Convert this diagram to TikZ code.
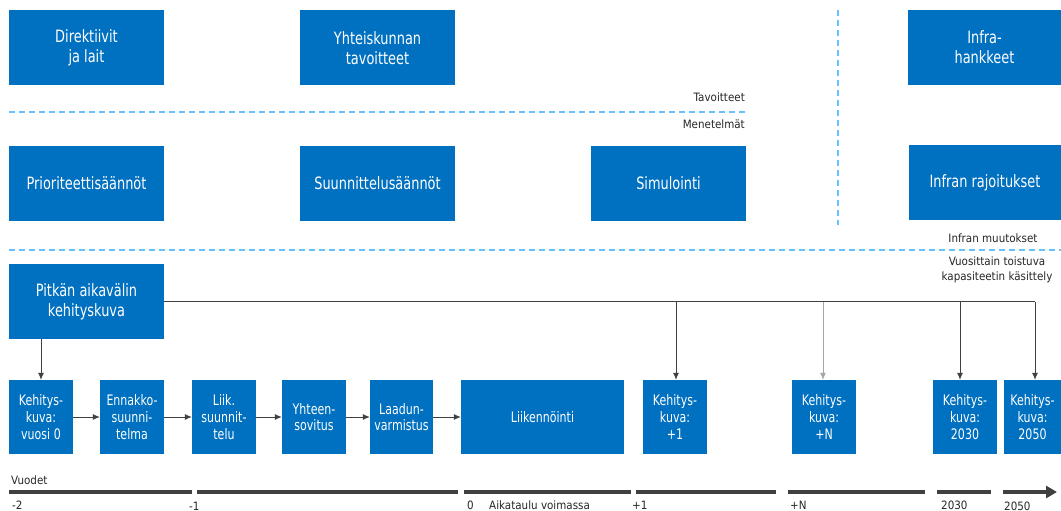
\documentclass[tikz,border=0pt]{standalone}
\usepackage{fontspec}
\setmainfont{DejaVu Sans}[FakeStretch=0.76]
\newfontfamily\notefont{DejaVu Sans}[FakeStretch=0.9]
\usetikzlibrary{arrows,arrows.meta}
\definecolor{boxblue}{RGB}{0,112,192}
\definecolor{dashblue}{RGB}{102,194,255}
\definecolor{linegray}{RGB}{64,64,64}
\definecolor{lightline}{RGB}{166,166,166}
\definecolor{notegray}{RGB}{38,38,38}
\tikzset{
  bigbox/.style   = {fill=boxblue, text=white, align=center, inner sep=0pt,
                     minimum width=155pt, minimum height=75pt,
                     font=\fontsize{17}{20}\selectfont},
  smallbox/.style = {fill=boxblue, text=white, align=center, inner sep=0pt,
                     minimum width=64pt, minimum height=74pt,
                     font=\fontsize{14.5}{16.7}\selectfont},
  note/.style     = {text=notegray, align=center, inner sep=0pt,
                     font=\notefont\fontsize{11.5}{14.5}\selectfont},
  sepline/.style  = {draw=dashblue, line width=1.5pt, dash pattern=on 6pt off 4pt},
  link/.style     = {draw=linegray, line width=0.8pt},
  flow/.style     = {link, -{Latex[length=7pt,width=6pt]}},
  yearbar/.style  = {draw=linegray, line width=4pt}
}

\begin{document}
\begin{tikzpicture}[x=1pt,y=-1pt]
  \useasboundingbox (0,0) rectangle (1061,511);
  % tavoitteet
  \node[bigbox] (direk) at (86.5,47.5) {Direktiivit\\ja lait};
  \node[bigbox] (yhteis) at (377.5,48) {Yhteiskunnan\\tavoitteet};
  \node[bigbox, minimum width=153pt] (infrah) at (984.5,47.5) {Infra-\\hankkeet};
  % menetelmat
  \node[bigbox] (prio) at (86.5,183.5) {Prioriteettisäännöt};
  \node[bigbox] (suunn) at (377.5,183.5) {Suunnittelusäännöt};
  \node[bigbox] (simul) at (668.5,183.5) {Simulointi};
  \node[bigbox, minimum width=152pt] (infrar) at (985,182.5) {Infran rajoitukset};
  % erottimet
  \draw[sepline] (9,112) -- (745,112);
  \draw[sepline] (9,250) -- (1061,250);
  \draw[sepline] (838,10) -- (838,225);
  \node[note, anchor=east] (tavo) at (745,97) {Tavoitteet};
  \node[note, anchor=east] (mene) at (745,124) {Menetelmät};
  \node[note] (muut) at (993,238) {Infran muutokset};
  \node[note] (vuosit) at (997,270) {Vuosittain toistuva\\kapasiteetin käsittely};
  % kehityskuvat
  \node[bigbox] (pitka) at (86.5,301.5) {Pitkän aikavälin\\kehityskuva};
  \node[smallbox] (kk0) at (41,417) {Kehitys-\\kuva:\\vuosi 0};
  \node[smallbox] (ennak) at (132,417) {Ennakko-\\suunni-\\telma};
  \node[smallbox] (liik) at (224,417) {Liik.\\suunnit-\\telu};
  \node[smallbox] (yhteen) at (314,417) {Yhteen-\\sovitus};
  \node[smallbox, minimum width=63pt] (laadun) at (401.5,417) {Laadun-\\varmistus};
  \node[smallbox, minimum width=163pt] (liikenn) at (542.5,417) {Liikennöinti};
  \node[smallbox] (kk1) at (675,417) {Kehitys-\\kuva:\\+1};
  \node[smallbox] (kkn) at (824,417) {Kehitys-\\kuva:\\+N};
  \node[smallbox] (kk30) at (965,417) {Kehitys-\\kuva:\\2030};
  \node[smallbox, minimum width=57pt] (kk50) at (1032.5,417) {Kehitys-\\kuva:\\2050};
  \draw[flow] (kk0) -- (ennak);
  \draw[flow] (ennak) -- (liik);
  \draw[flow] (liik) -- (yhteen);
  \draw[flow] (yhteen) -- (laadun);
  \draw[flow] (laadun) -- (liikenn);
  \draw[flow] (pitka.south -| kk0) -- (kk0);
  \coordinate (d1) at (676,301.5);
  \coordinate (dn) at (823,301.5);
  \coordinate (d30) at (960,301.5);
  \coordinate (d50) at (1035,301.5);
  \draw[link] (pitka.east) -- (d50);
  \draw[flow] (d1) -- (d1 |- kk1.north);
  \draw[flow, draw=lightline] (dn) -- (dn |- kkn.north);
  \draw[flow] (d30) -- (d30 |- kk30.north);
  \draw[flow] (d50) -- (d50 |- kk50.north);
  % aikajana
  \foreach \a/\b in {9/192, 197/458, 464/631, 636/776, 788/925, 937/991}
    \draw[yearbar] (\a,492) -- (\b,492);
  \draw[yearbar, -{Triangle[length=11pt,width=12pt]}] (1003,492) -- (1057,492);
  \node[note, anchor=west] (vuodet) at (11,480) {Vuodet};
  \node[note, anchor=west] (ym2) at (12,505) {-2};
  \node[note, anchor=west] (ym1) at (189,506) {-1};
  \node[note, anchor=west] (y0) at (467,505) {0};
  \node[note, anchor=west] (aikat) at (489,505) {Aikataulu voimassa};
  \node[note, anchor=west] (yp1) at (632,505) {+1};
  \node[note, anchor=west] (ypn) at (790,505) {+N};
  \node[note, anchor=west] (y30) at (941,505) {2030};
  \node[note, anchor=west] (y50) at (1004,506) {2050};
\end{tikzpicture}
\end{document}
